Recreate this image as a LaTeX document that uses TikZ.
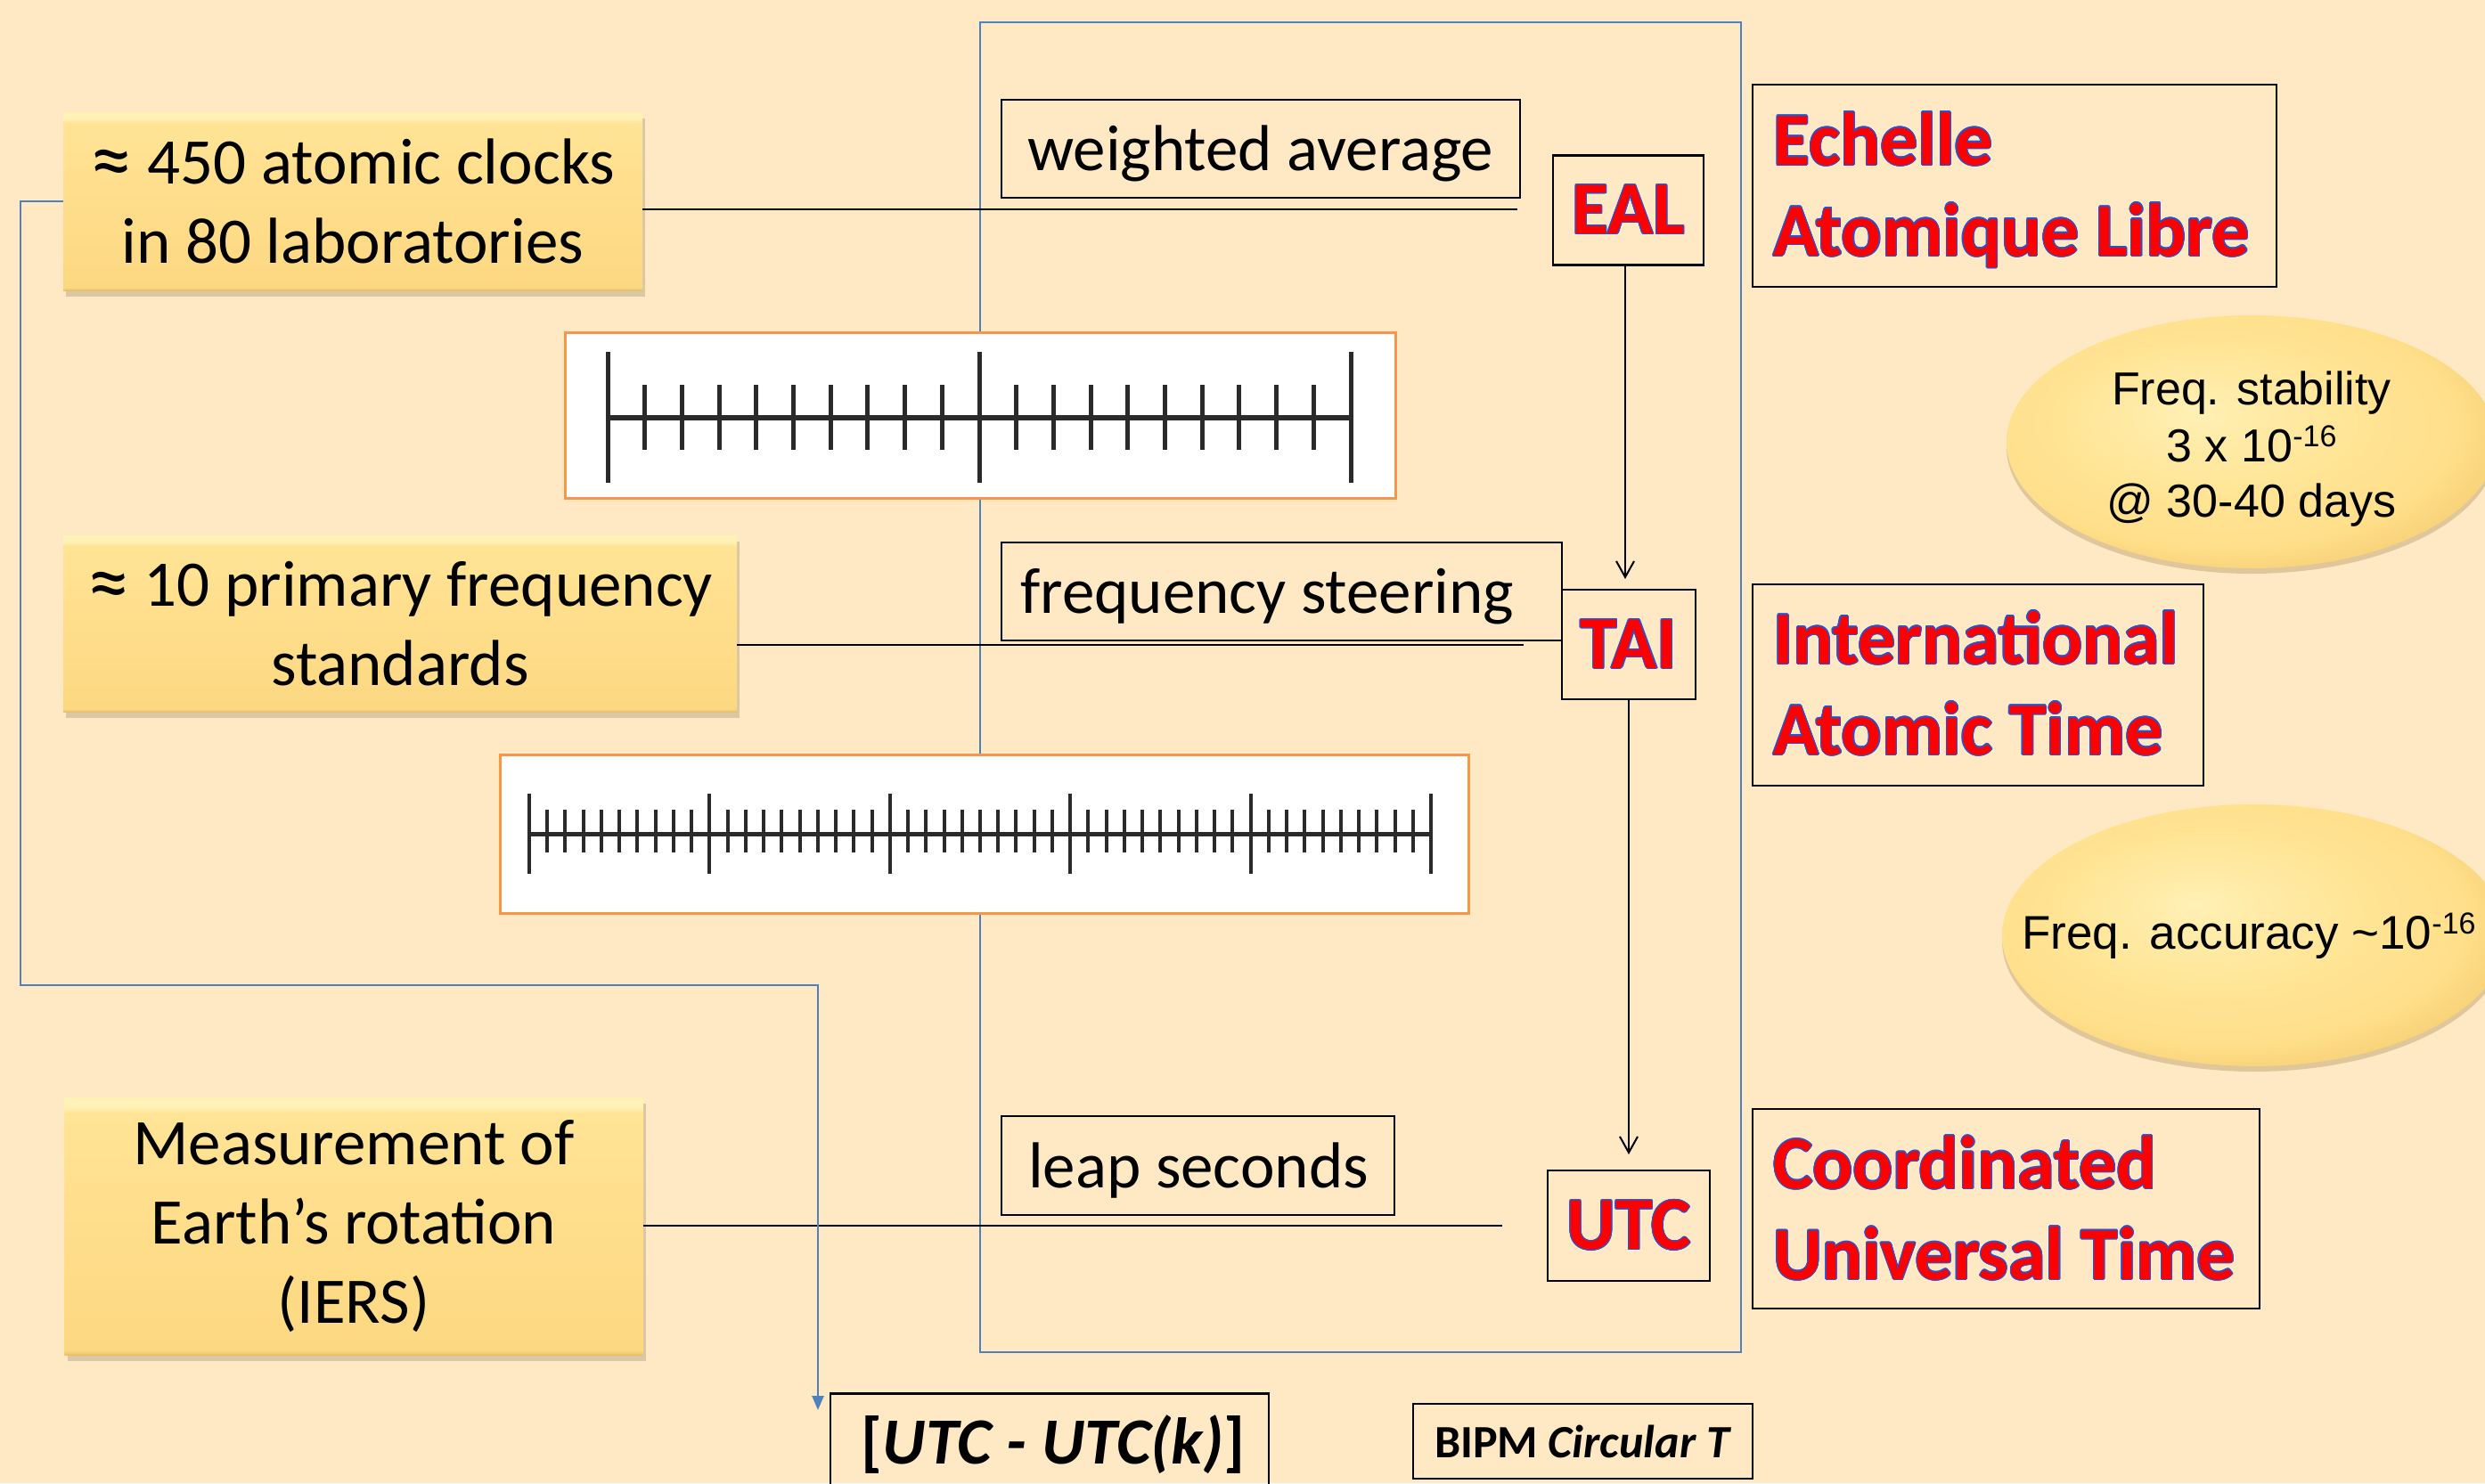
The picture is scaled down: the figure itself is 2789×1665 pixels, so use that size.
\documentclass[tikz,border=0pt]{standalone}
\usepackage{fontspec}
\setmainfont{Carlito}
\newfontfamily\arialf{Liberation Sans}
\usepackage{contour}
\contourlength{1.1pt}
\usetikzlibrary{arrows.meta,shapes.geometric,shadows}
\definecolor{bgc}{HTML}{FEE9C4}
\definecolor{bluel}{HTML}{4F81BD}
\definecolor{orangel}{HTML}{F79646}
\definecolor{redt}{HTML}{FF0000}
\definecolor{bluet}{HTML}{3050C8}
\definecolor{gD}{HTML}{E6C067}
\definecolor{gB}{HTML}{FCD882}
\definecolor{gM}{HTML}{FFDF8D}
\definecolor{gT}{HTML}{FFE496}
\definecolor{gL}{HTML}{FFF2B6}
\definecolor{eA}{HTML}{FFF0B4}
\definecolor{eB}{HTML}{FFE597}
\definecolor{eC}{HTML}{FFDF8A}
\definecolor{eD}{HTML}{F5CF74}
\definecolor{eE}{HTML}{E2B85C}
\definecolor{shadowc}{HTML}{9A8A6A}
\definecolor{eshadow}{HTML}{A88A50}
\definecolor{rulerc}{HTML}{2A2A2A}
\pgfdeclareverticalshading{goldshade}{100bp}{color(0bp)=(gD); color(25bp)=(gD); color(25.8bp)=(gB); color(55bp)=(gM); color(72bp)=(gT); color(73.2bp)=(gL); color(100bp)=(gL)}
\pgfdeclareradialshading{ellshade}{\pgfpoint{-6bp}{6bp}}{color(0bp)=(eA); color(14bp)=(eB); color(24bp)=(eC); color(30bp)=(eD); color(34bp)=(eE); color(50bp)=(eE)}
\newcommand\rtx[1]{\contour{bluet}{#1}}
\newcommand\supr[1]{\raisebox{17pt}{\fontsize{34}{34}\selectfont #1}}
\newcommand\apx{\raisebox{-5pt}{\scalebox{1.3}{≈}}}
\begin{document}
\begin{tikzpicture}[x=1pt,y=-1pt,
  txt/.style={font=\fontsize{73}{89}\selectfont, inner sep=0pt},
  goldbox/.style={shading=goldshade, inner sep=0pt, align=center, font=\fontsize{73}{89}\selectfont,
    drop shadow={shadow xshift=3pt, shadow yshift=-7pt, opacity=0.35, fill=shadowc}},
  framebox/.style={draw=black, line width=2.5pt, inner sep=0pt},
  redtxt/.style={text=redt, font=\bfseries\fontsize{84}{102}\selectfont, inner sep=0pt},
  conn/.style={draw=black, line width=2.5pt},
  darrow/.style={draw=black, line width=2pt, -{Straight Barb[length=18pt,width=20pt]}},
  blueline/.style={draw=bluel, line width=2.5pt},
  rulerbox/.style={draw=orangel, fill=white, line width=3pt, inner sep=0pt},
  tickA/.style={draw=rulerc, line width=5pt},
  tickB/.style={draw=rulerc, line width=4pt},
  goldell/.style={ellipse, shading=ellshade, inner sep=0pt,
    drop shadow={shadow xshift=0pt, shadow yshift=-6pt, opacity=0.35, fill=eshadow}},
  etxt/.style={font=\arialf\fontsize{52}{63}\selectfont, inner sep=0pt}
]
\fill[bgc] (0,0) rectangle (2789,1665);
\useasboundingbox (0,0) rectangle (2789,1665);

% blue frame
\draw[blueline] (1100,25) rectangle (1954,1518);

% ruler 1
\node[rulerbox, minimum width=932pt, minimum height=186pt] (r1) at (1100,466) {};
\foreach \i in {0,...,20} \draw[tickA] ({682+41.7*\i},432) -- ({682+41.7*\i},505);
\foreach \i in {0,10,20} \draw[tickA] ({682+41.7*\i},395) -- ({682+41.7*\i},542);
\draw[draw=rulerc, line width=6pt] (682,469) -- (1516,469);

% ruler 2
\node[rulerbox, minimum width=1087pt, minimum height=178pt] (r2) at (1104.5,936) {};
\foreach \i in {0,...,50} \draw[tickB] ({594+20.24*\i},909) -- ({594+20.24*\i},957);
\foreach \i in {0,...,5} \draw[tickB] ({594+202.4*\i},891) -- ({594+202.4*\i},981);
\draw[draw=rulerc, line width=5pt] (594,936) -- (1606,936);

% gold boxes
\node[goldbox, minimum width=650pt, minimum height=200pt] (g1) at (396,226) {\apx\ 450 atomic clocks\\in 80 laboratories};
\node[goldbox, minimum width=756pt, minimum height=198pt] (g2) at (449,700) {\apx\ 10 primary frequency\\standards};
\node[goldbox, minimum width=649pt, minimum height=289pt] (g3) at (397,1376.5) {Measurement of\\Earth’s rotation\\(IERS)};

% label boxes
\node[framebox, minimum width=582pt, minimum height=110pt] (wa) at (1415,167) {};
\node[txt, anchor=base west] (wat) at (1153,191) {weighted average};
\node[framebox, minimum width=629pt, minimum height=110pt] (fs) at (1438.5,664) {};
\node[txt, anchor=base west] (fst) at (1145,688) {frequency steering};
\node[framebox, minimum width=441pt, minimum height=111pt] (ls) at (1344.5,1308.5) {};
\node[txt, anchor=base west] (lst) at (1154,1333) {leap seconds};

% time scale boxes
\node[framebox, redtxt, minimum width=169pt, minimum height=123pt] (eal) at (1827.5,236) {\rtx{EAL}};
\node[framebox, redtxt, minimum width=150pt, minimum height=123pt] (tai) at (1828,723.5) {\rtx{TAI}};
\node[framebox, redtxt, minimum width=182pt, minimum height=124pt] (utc) at (1828,1376) {\rtx{UTC}};

% name boxes
\node[framebox, minimum width=588pt, minimum height=227pt] (ech) at (2261,208.5) {};
\node[redtxt, anchor=base west] (echA) at (1990,185) {\rtx{Echelle}};
\node[redtxt, anchor=base west] (echB) at (1990,287) {\rtx{Atomique Libre}};
\node[framebox, minimum width=506pt, minimum height=226pt] (int) at (2220,769) {};
\node[redtxt, anchor=base west] (intA) at (1990,745) {\rtx{International}};
\node[redtxt, anchor=base west] (intB) at (1990,847) {\rtx{Atomic Time}};
\node[framebox, minimum width=569pt, minimum height=224pt] (coo) at (2251.5,1357) {};
\node[redtxt, anchor=base west] (cooA) at (1990,1334) {\rtx{Coordinated}};
\node[redtxt, anchor=base west] (cooB) at (1990,1436) {\rtx{Universal Time}};

% ellipses
\node[goldell, minimum width=550pt, minimum height=284pt] (e1) at (2527,496) {};
\node[etxt, anchor=base] (e1a) at (2527,454) {Freq. stability};
\node[etxt, anchor=base] (e1b) at (2527,518) {3 x 10\supr{-16}};
\node[etxt, anchor=base] (e1c) at (2527,580) {@ 30-40 days};
\node[goldell, minimum width=566pt, minimum height=294pt] (e2) at (2530,1050) {};
\node[etxt, anchor=base, font=\arialf\fontsize{53}{63}\selectfont] (e2a) at (2524,1065) {Freq. accuracy \textasciitilde 10\supr{-16}};

% connectors
\coordinate (l1e) at (1703,235);
\draw[conn] (g1.east |- l1e) -- (l1e);
\coordinate (l2e) at (1710,724);
\draw[conn] (g2.east |- l2e) -- (l2e);
\coordinate (l3e) at (1686,1376);
\draw[conn] (g3.east |- l3e) -- (l3e);
\coordinate (a1e) at (1824,650);
\draw[darrow] (a1e |- eal.south) -- (a1e);
\coordinate (a2e) at (1828,1296);
\draw[darrow] (a2e |- tai.south) -- (a2e);

% bottom boxes
\node[framebox, minimum width=492pt, minimum height=160pt, anchor=north] (utck) at (1178,1563) {};
\node[anchor=base, inner sep=0pt, font=\bfseries\fontsize{74}{89}\selectfont] (utckt) at (1182,1643) {[\textit{UTC - UTC(k)}]};
\node[framebox, minimum width=381pt, minimum height=84pt, font=\bfseries\fontsize{52}{60}\selectfont] (bipm) at (1776.5,1618) {BIPM \textit{Circular T}};

% blue connector
\coordinate (bc) at (23,1106);
\coordinate (bt) at (918,1583);
\draw[blueline, -{Triangle[length=16pt,width=13pt]}] (g1.west) -| (bc) -| (bt);
\end{tikzpicture}
\end{document}
